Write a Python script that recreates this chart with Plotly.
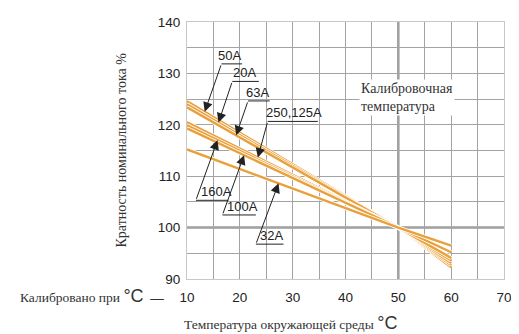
import numpy as np
import plotly.graph_objects as go

# ---- data ----
temps = [10, 50, 60]
series_names = ["50A", "20A", "63A", "250,125A", "160A", "100A", "32A"]
v_50A = [124.6, 100, 92.3]
v_20A = [124.0, 100, 92.7]
v_63A = [123.4, 100, 93.1]
v_250_125A = [120.5, 100, 93.6]
v_160A = [119.9, 100, 94.1]
v_100A = [119.3, 100, 95.2]
v_32A = [115.2, 100, 96.5]
series_values = [v_50A, v_20A, v_63A, v_250_125A, v_160A, v_100A, v_32A]

x_ticks = [10, 20, 30, 40, 50, 60, 70]
y_ticks = [90, 100, 110, 120, 130, 140]

# label layout: (tip_x, underline_left_x, underline_right_x, underline_y, text_center_x)
label_layout = {
    "50A": (13.35, 16.52, 20.43, 131.85, 18.10),
    "20A": (15.96, 18.57, 23.60, 128.44, 20.90),
    "63A": (19.31, 21.55, 25.65, 124.64, 23.41),
    "250,125A": (23.41, 25.27, 34.77, 120.66, 30.22),
    "160A": (15.78, 11.68, 17.83, 105.31, 15.50),
    "100A": (20.80, 16.71, 23.04, 102.46, 20.53),
    "32A": (27.33, 23.04, 28.26, 96.78, 25.99),
}

ORANGE = "#E9A03B"
GRID = "#A3A3A3"
SERIF = "Liberation Serif"
SANS = "Liberation Sans"

fig = go.Figure()
for name, vals in zip(series_names, series_values):
    fig.add_trace(go.Scatter(x=temps, y=vals, mode="lines",
                             line=dict(color="white", width=4.0),
                             hoverinfo="skip", showlegend=False))
    fig.add_trace(go.Scatter(x=temps, y=vals, mode="lines", name=name,
                             line=dict(color=ORANGE, width=2.4),
                             showlegend=False))

shapes = []
annotations = []
# thick reference grid lines
shapes.append(dict(type="line", xref="x", yref="paper", x0=50, x1=50, y0=0, y1=1,
                   line=dict(color="#9a9a9a", width=2.5), layer="below"))
shapes.append(dict(type="line", xref="paper", yref="y", x0=0, x1=1, y0=100, y1=100,
                   line=dict(color="#9a9a9a", width=2.5), layer="below"))

for name, vals in zip(series_names, series_values):
    tip_x, ul_l, ul_r, ul_y, tc = label_layout[name]
    tip_y = float(np.interp(tip_x, temps, vals))
    shapes.append(dict(type="line", xref="x", yref="y", x0=ul_l, x1=ul_r, y0=ul_y, y1=ul_y,
                       line=dict(color="#222", width=1)))
    annotations.append(dict(x=tip_x, y=tip_y, ax=ul_l, ay=ul_y, axref="x", ayref="y",
                            xref="x", yref="y", text="", showarrow=True,
                            arrowhead=2, arrowsize=1.9, arrowwidth=1, arrowcolor="#222",
                            standoff=0, startstandoff=0))
    annotations.append(dict(x=tc, y=ul_y, xref="x", yref="y", text=name, showarrow=False,
                            xanchor="center", yanchor="bottom", yshift=-1,
                            font=dict(family=SANS, size=13, color="#222")))

# Calibration temperature note
annotations.append(dict(x=42.6, y=125.4, xref="x", yref="y", xanchor="left", yanchor="middle",
                        text="Калибровочная<br>температура", showarrow=False, align="left",
                        bgcolor="white", borderpad=1,
                        font=dict(family=SERIF, size=14, color="#333")))
# y-axis title
annotations.append(dict(x=-0.208, y=0.5, xref="paper", yref="paper", textangle=-90,
                        text="Кратность номинального тока %", showarrow=False,
                        xanchor="center", yanchor="middle",
                        font=dict(family=SERIF, size=14, color="#333")))
# x-axis title
annotations.append(dict(x=0.326, y=-0.17, xref="paper", yref="paper", yanchor="middle",
                        text="Температура окружающей среды <span style='font-family:Liberation Sans;font-size:18px'>°C</span>",
                        showarrow=False, xanchor="center",
                        font=dict(family=SERIF, size=13.5, color="#333")))
# calibrated at
annotations.append(dict(x=-0.066, y=-0.068, xref="paper", yref="paper", yanchor="middle",
                        text="Калибровано при <span style='font-family:Liberation Sans;font-size:18px'>°C</span>  <b>—</b>",
                        showarrow=False, xanchor="right",
                        font=dict(family=SERIF, size=13.5, color="#333")))

# the page body adds an 8px offset, so the figure is 8px smaller and shifted
fig.update_layout(
    width=511, height=326,
    margin=dict(l=179, r=10, t=7, b=55),
    paper_bgcolor="white", plot_bgcolor="white",
    shapes=shapes, annotations=annotations,
    xaxis=dict(range=[10, 70], tickvals=x_ticks, showgrid=True, gridcolor=GRID, gridwidth=1,
               minor=dict(dtick=5, tick0=0, showgrid=True, gridcolor=GRID, gridwidth=1),
               showline=True, linecolor="#c8c8c8", linewidth=1, mirror=True,
               ticks="", ticklabelstandoff=6, zeroline=False, ticklabeloverflow="allow",
               tickfont=dict(family=SANS, size=13.5, color="#222")),
    yaxis=dict(range=[90, 140], tickvals=y_ticks, showgrid=True, gridcolor=GRID, gridwidth=1,
               minor=dict(dtick=5, tick0=0, showgrid=True, gridcolor=GRID, gridwidth=1),
               showline=True, linecolor="#c8c8c8", linewidth=1, mirror=True,
               ticks="", ticklabelstandoff=3, zeroline=False, ticklabeloverflow="allow",
               tickfont=dict(family=SANS, size=13.5, color="#222")),
)

fig.write_html("out.html")
